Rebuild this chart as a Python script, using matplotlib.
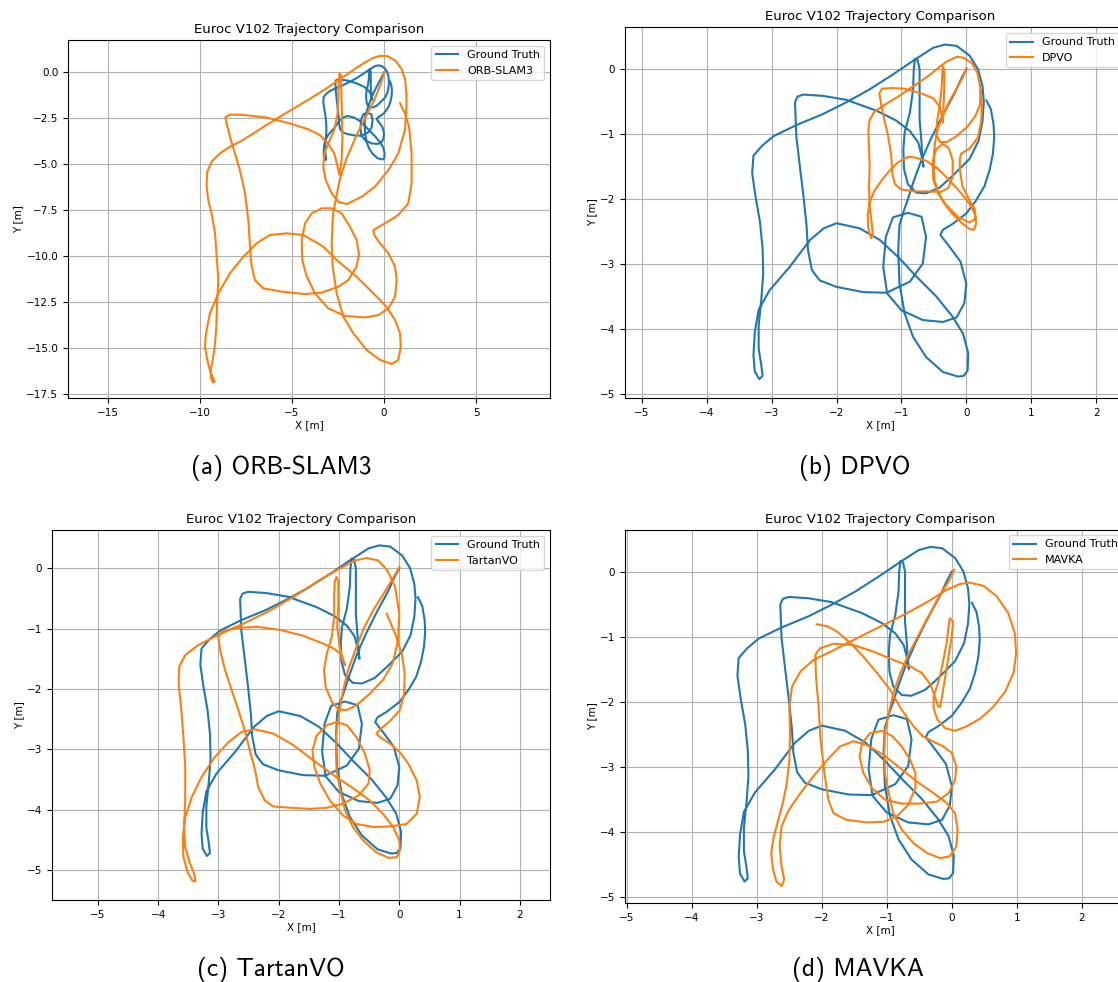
import matplotlib.pyplot as plt

# ground truth (same in every panel)
gt_x = [0.00, -0.08, -0.18, -0.37, -0.55, -0.70, -0.82, -0.90, -0.97, -1.03, -1.05, -1.03, -0.95, -0.82,
        -0.62, -0.36, -0.13, -0.04, 0.02, 0.03, -0.05, -0.21, -0.46, -0.77, -1.03, -1.33, -1.64, -2.00,
        -2.20, -2.41, -2.72, -3.03, -3.20, -3.26, -3.28, -3.26, -3.19, -3.14, -3.16, -3.20, -3.20, -3.16,
        -3.13, -3.14, -3.18, -3.25, -3.30, -3.28, -3.15, -2.97, -2.62, -2.21, -1.85, -1.49, -1.13, -0.79,
        -0.51, -0.33, -0.15, 0.05, 0.18, 0.25, 0.27, 0.25, 0.19, 0.05, -0.21, -0.41, -0.62, -0.77, -0.90,
        -0.96, -0.97, -0.95, -0.87, -0.82, -0.81, -0.79, -0.75, -0.72, -0.72, -0.72, -0.69, -0.68, -0.66,
        -0.69, -0.74, -0.87, -1.08, -1.38, -1.85, -2.21, -2.51, -2.60, -2.64, -2.62, -2.56, -2.51, -2.46,
        -2.44, -2.38, -2.26, -2.00, -1.59, -1.23, -0.87, -0.67, -0.62, -0.69, -0.90, -1.13, -1.24, -1.28,
        -1.22, -1.00, -0.67, -0.36, -0.15, -0.03, 0.00, -0.09, -0.26, -0.40, -0.36, -0.21, 0.00, 0.15, 0.28,
        0.36, 0.41, 0.43, 0.42, 0.38, 0.31]
gt_y = [0.00, -0.15, -0.37, -0.72, -1.08, -1.42, -1.75, -2.00, -2.20, -2.40, -2.78, -3.30, -3.76, -4.12,
        -4.43, -4.66, -4.73, -4.72, -4.64, -4.37, -4.07, -3.81, -3.50, -3.19, -2.91, -2.63, -2.45, -2.37,
        -2.45, -2.63, -3.04, -3.40, -3.70, -4.05, -4.40, -4.65, -4.77, -4.72, -4.55, -4.30, -3.95, -3.55,
        -3.15, -2.75, -2.35, -1.95, -1.60, -1.33, -1.18, -1.03, -0.86, -0.69, -0.51, -0.31, -0.08, 0.15,
        0.33, 0.38, 0.36, 0.21, 0.00, -0.26, -0.50, -0.80, -1.10, -1.38, -1.64, -1.82, -1.91, -1.90, -1.77,
        -1.54, -1.23, -0.97, -0.67, -0.31, 0.00, 0.16, 0.14, 0.00, -0.41, -0.77, -1.13, -1.33, -1.50, -1.33,
        -1.13, -0.95, -0.79, -0.64, -0.47, -0.41, -0.39, -0.42, -0.51, -1.03, -1.54, -1.95, -2.43, -2.78,
        -3.09, -3.25, -3.35, -3.43, -3.44, -3.27, -2.99, -2.58, -2.27, -2.21, -2.28, -2.58, -3.04, -3.45,
        -3.71, -3.86, -3.89, -3.82, -3.60, -3.30, -2.96, -2.73, -2.55, -2.47, -2.38, -2.22, -2.02, -1.80,
        -1.55, -1.30, -1.05, -0.85, -0.62, -0.48]

# (a) ORB-SLAM3
orb_x = [0.00, -0.13, -0.49, -0.94, -1.49, -2.03, -2.39, -2.57, -2.75, -2.79, -2.84, -2.79, -2.57, -2.21,
         -1.67, -0.94, -0.22, 0.42, 0.78, 0.91, 0.87, 0.60, 0.14, -0.58, -1.49, -2.57, -3.30, -4.38, -5.29,
         -6.20, -6.92, -7.64, -8.37, -9.00, -9.46, -9.67, -9.73, -9.60, -9.46, -9.30, -9.20, -9.30, -9.40,
         -9.42, -9.30, -9.20, -9.12, -9.06, -9.00, -9.09, -9.18, -9.37, -9.55, -9.64, -9.60, -9.37, -8.91,
         -8.37, -7.83, -7.10, -6.38, -5.65, -4.75, -3.84, -3.12, -2.48, -1.12, -0.60, -0.22, 0.20, 0.60,
         0.95, 1.15, 1.22, 1.22, 1.14, 0.78, 0.24, -0.49, -1.21, -2.03, -2.48, -2.84, -3.17, -3.30, -3.24,
         -3.03, -2.70, -2.52, -2.48, -2.45, -2.42, -2.34, -2.30, -2.26, -2.30, -2.42, -2.55, -2.70, -3.10,
         -3.50, -4.10, -5.20, -6.40, -7.80, -8.40, -8.62, -8.55, -8.37, -8.10, -7.83, -7.55, -7.37, -7.28,
         -7.19, -7.01, -6.56, -5.56, -4.29, -3.39, -2.48, -1.94, -1.49, -1.36, -1.49, -1.85, -2.30, -2.84,
         -3.39, -3.93, -4.29, -4.47, -4.44, -4.20, -3.75, -3.03, -2.12, -1.03, -0.31, 0.24, 0.60, 0.69,
         0.60, 0.24, -0.22, -0.53, -0.58, 0.05, 0.78, 1.32, 1.50, 1.50, 1.36, 1.14, 0.87]
orb_y = [0.00, -0.51, -1.41, -2.32, -3.41, -4.67, -5.76, -6.67, -7.57, -8.03, -9.29, -10.56, -12.01,
         -13.28, -14.18, -15.09, -15.63, -15.85, -15.63, -14.91, -14.18, -13.46, -12.74, -12.01, -11.11,
         -10.20, -9.47, -8.84, -8.75, -8.84, -9.29, -10.02, -10.92, -12.01, -13.10, -14.18, -14.91, -15.63,
         -16.18, -16.60, -16.80, -16.85, -16.60, -16.20, -15.60, -14.90, -14.00, -12.37, -11.29, -10.02,
         -8.75, -7.66, -6.94, -6.12, -5.40, -4.86, -4.40, -4.04, -3.77, -3.32, -2.86, -2.41, -1.87, -1.32,
         -0.87, -0.42, 0.49, 0.78, 0.90, 0.88, 0.65, 0.20, -0.40, -1.20, -1.87, -3.13, -4.40, -5.31, -6.21,
         -6.76, -7.16, -7.03, -6.58, -5.85, -5.13, -4.40, -3.86, -3.13, -2.23, -1.14, -0.42, -0.05, -0.14,
         -1.68, -3.50, -4.76, -5.58, -5.00, -4.40, -3.80, -3.40, -3.10, -2.75, -2.45, -2.30, -2.30, -2.45,
         -2.77, -3.50, -4.40, -5.31, -6.58, -8.03, -9.47, -10.56, -11.29, -11.74, -11.92, -12.05, -11.97,
         -11.65, -11.29, -10.56, -9.84, -9.11, -8.39, -7.66, -7.39, -7.39, -7.66, -8.21, -9.11, -10.20,
         -11.10, -12.01, -12.83, -13.24, -13.32, -13.19, -12.83, -12.19, -11.29, -10.56, -9.84, -9.29,
         -8.84, -8.57, -8.21, -7.75, -7.12, -6.03, -4.40, -2.95, -2.23, -1.68]

# (b) DPVO
dpvo_x = [0.00, -0.05, -0.18, -0.28, -0.36, -0.44, -0.48, -0.50, -0.50, -0.49, -0.44, -0.35, -0.22, -0.08,
          0.05, 0.12, 0.15, 0.14, 0.08, -0.02, -0.13, -0.28, -0.45, -0.62, -0.78, -0.90, -1.05, -1.18,
          -1.30, -1.42, -1.49, -1.52, -1.51, -1.47, -1.44, -1.46, -1.49, -1.50, -1.49, -1.50, -1.51, -1.49,
          -1.42, -1.28, -1.03, -0.80, -0.58, -0.42, -0.30, -0.15, -0.05, 0.08, 0.17, 0.22, 0.21, 0.14, 0.02,
          -0.15, -0.30, -0.40, -0.46, -0.45, -0.41, -0.38, -0.37, -0.36, -0.34, -0.34, -0.35, -0.36, -0.40,
          -0.50, -0.70, -0.95, -1.15, -1.30, -1.34, -1.31, -1.26, -1.21, -1.16, -1.14, -1.10, -1.00, -0.80,
          -0.60, -0.40, -0.28, -0.21, -0.21, -0.27, -0.37, -0.47, -0.52, -0.51, -0.43, -0.30, -0.12, 0.05,
          0.14, 0.13, 0.04, -0.06, -0.10, -0.10, -0.08, 0.05, 0.18, 0.23, 0.24, 0.22]
dpvo_y = [0.02, -0.12, -0.35, -0.53, -0.71, -0.92, -1.12, -1.30, -1.50, -1.70, -1.88, -2.05, -2.22, -2.36,
          -2.46, -2.47, -2.38, -2.25, -2.12, -1.98, -1.85, -1.69, -1.52, -1.41, -1.36, -1.35, -1.43, -1.56,
          -1.70, -1.88, -2.05, -2.25, -2.45, -2.60, -2.55, -2.35, -2.10, -1.80, -1.50, -1.20, -0.95, -0.78,
          -0.66, -0.56, -0.41, -0.25, -0.10, 0.03, 0.12, 0.19, 0.18, 0.10, -0.05, -0.30, -0.55, -0.72, -0.88,
          -1.03, -1.12, -1.12, -1.02, -0.80, -0.55, -0.30, -0.05, 0.04, -0.02, -0.30, -0.55, -0.82, -0.60,
          -0.45, -0.37, -0.30, -0.29, -0.30, -0.37, -0.55, -0.80, -1.00, -1.30, -1.60, -1.77, -1.85, -1.88,
          -1.88, -1.89, -1.83, -1.66, -1.41, -1.21, -1.15, -1.24, -1.45, -1.70, -1.92, -2.10, -2.28, -2.36,
          -2.30, -2.15, -2.00, -1.80, -1.55, -1.38, -1.30, -1.22, -1.05, -0.80, -0.55, -0.32]

# (c) TartanVO
tartan_x = [0.00, -0.09, -0.24, -0.43, -0.60, -0.73, -0.85, -0.93, -0.99, -1.04, -1.05, -1.04, -0.98,
            -0.90, -0.77, -0.60, -0.38, -0.18, -0.04, 0.01, 0.00, -0.10, -0.27, -0.49, -0.76, -1.09, -1.43,
            -1.76, -2.09, -2.39, -2.61, -2.83, -3.06, -3.28, -3.44, -3.55, -3.59, -3.58, -3.51, -3.43, -3.38,
            -3.40, -3.48, -3.55, -3.57, -3.55, -3.55, -3.58, -3.62, -3.66, -3.65, -3.55, -3.33, -2.97, -2.59,
            -2.14, -1.70, -1.31, -0.98, -0.73, -0.54, -0.35, -0.20, -0.07, 0.00, -0.02, -0.11, -0.27, -0.49,
            -0.71, -0.87, -1.01, -1.12, -1.22, -1.25, -1.20, -1.12, -1.08, -1.08, -1.07, -1.04, -1.01, -1.01,
            -1.03, -0.99, -0.93, -0.90, -0.98, -1.09, -1.26, -1.59, -1.98, -2.36, -2.70, -2.94, -3.00, -2.97,
            -2.89, -2.78, -2.67, -2.56, -2.48, -2.39, -2.34, -2.23, -2.09, -1.81, -1.48, -1.20, -0.93, -0.68,
            -0.51, -0.49, -0.57, -0.71, -0.87, -1.04, -1.20, -1.37, -1.44, -1.41, -1.31, -1.15, -0.93, -0.71,
            -0.43, -0.15, 0.12, 0.29, 0.34, 0.29, 0.15, 0.01, -0.15, -0.32, -0.38, -0.32, -0.15, 0.01, 0.08,
            0.09, 0.04, -0.07, -0.21]
tartan_y = [0.02, -0.14, -0.39, -0.69, -1.02, -1.36, -1.69, -2.02, -2.35, -2.69, -3.02, -3.35, -3.68,
            -4.01, -4.29, -4.51, -4.71, -4.80, -4.79, -4.68, -4.51, -4.29, -4.07, -3.85, -3.65, -3.43, -3.18,
            -2.93, -2.74, -2.67, -2.71, -2.88, -3.13, -3.46, -3.79, -4.13, -4.46, -4.79, -5.04, -5.18, -5.19,
            -5.07, -4.87, -4.62, -4.29, -3.85, -3.29, -2.80, -2.30, -1.91, -1.63, -1.44, -1.27, -1.09, -0.92,
            -0.70, -0.44, -0.19, 0.00, 0.13, 0.17, 0.13, -0.03, -0.30, -0.75, -1.19, -1.58, -1.85, -2.08,
            -2.27, -2.35, -2.34, -2.21, -1.97, -1.69, -1.41, -1.14, -0.80, -0.47, -0.22, -0.14, -0.22, -0.58,
            -0.97, -1.30, -1.52, -1.61, -1.41, -1.33, -1.25, -1.12, -1.02, -0.97, -0.99, -1.04, -1.14, -1.36,
            -1.69, -2.02, -2.35, -2.69, -3.02, -3.35, -3.63, -3.85, -3.95, -3.97, -3.99, -3.97, -3.90, -3.77,
            -3.57, -3.35, -3.07, -2.80, -2.60, -2.55, -2.60, -2.77, -3.02, -3.29, -3.57, -3.85, -4.10, -4.24,
            -4.29, -4.28, -4.24, -4.07, -3.79, -3.52, -3.24, -3.05, -2.91, -2.80, -2.74, -2.67, -2.53, -2.35,
            -2.08, -1.74, -1.41, -1.08, -0.75]

# (d) MAVKA
mavka_x = [0.04, -0.05, -0.21, -0.36, -0.51, -0.67, -0.79, -0.90, -0.97, -1.03, -1.04, -1.03, -0.97, -0.90,
           -0.77, -0.59, -0.38, -0.18, -0.03, 0.07, 0.09, 0.05, -0.08, -0.28, -0.54, -0.79, -1.05, -1.31,
           -1.51, -1.72, -1.92, -2.13, -2.33, -2.51, -2.62, -2.65, -2.62, -2.58, -2.62, -2.70, -2.75, -2.78,
           -2.74, -2.67, -2.60, -2.54, -2.50, -2.49, -2.50, -2.46, -2.33, -2.13, -1.82, -1.41, -1.05, -0.69,
           -0.33, -0.08, 0.13, 0.28, 0.49, 0.69, 0.87, 0.97, 0.99, 0.95, 0.82, 0.64, 0.44, 0.23, 0.05, -0.10,
           -0.22, -0.28, -0.28, -0.22, -0.17, -0.13, -0.08, -0.05, -0.03, 0.02, 0.00, -0.05, -0.10, -0.15,
           -0.18, -0.21, -0.26, -0.33, -0.46, -0.64, -0.90, -1.21, -1.51, -1.82, -2.03, -2.10, -2.09, -2.05,
           -2.02, -1.96, -1.90, -1.82, -1.62, -1.31, -1.05, -0.85, -0.67, -0.56, -0.56, -0.64, -0.77, -0.92,
           -1.08, -1.26, -1.38, -1.42, -1.36, -1.23, -1.03, -0.77, -0.49, -0.23, -0.05, 0.05, 0.07, 0.00,
           -0.13, -0.28, -0.44, -0.59, -0.77, -0.95, -1.15, -1.36, -1.56, -1.77, -1.92, -2.08]
mavka_y = [0.03, -0.15, -0.41, -0.69, -0.97, -1.28, -1.56, -1.87, -2.18, -2.49, -2.79, -3.10, -3.41, -3.72,
           -3.97, -4.18, -4.33, -4.41, -4.38, -4.23, -3.97, -3.72, -3.56, -3.41, -3.23, -3.03, -2.82, -2.67,
           -2.61, -2.69, -2.90, -3.15, -3.41, -3.67, -3.92, -4.23, -4.54, -4.74, -4.84, -4.77, -4.59, -4.33,
           -4.08, -3.82, -3.56, -3.26, -2.90, -2.49, -2.08, -1.77, -1.54, -1.36, -1.21, -1.00, -0.82, -0.64,
           -0.44, -0.28, -0.19, -0.17, -0.22, -0.38, -0.64, -0.95, -1.26, -1.56, -1.85, -2.08, -2.26, -2.38,
           -2.45, -2.41, -2.28, -2.10, -1.92, -1.74, -1.56, -1.36, -1.10, -0.85, -0.72, -0.77, -1.00, -1.31,
           -1.62, -1.92, -2.08, -2.08, -1.92, -1.74, -1.56, -1.46, -1.36, -1.23, -1.13, -1.11, -1.18, -1.28,
           -1.62, -2.08, -2.59, -3.10, -3.51, -3.72, -3.82, -3.86, -3.85, -3.77, -3.59, -3.33, -3.10, -2.90,
           -2.69, -2.53, -2.45, -2.49, -2.64, -2.85, -3.10, -3.33, -3.51, -3.57, -3.57, -3.54, -3.41, -3.21,
           -3.00, -2.79, -2.69, -2.62, -2.54, -2.38, -2.13, -1.82, -1.56, -1.31, -1.10, -0.92, -0.84, -0.81]

W, H = 1118, 982
fig = plt.figure(figsize=(W / 100, H / 100), dpi=100)

blue = "#1f77b4"
orange = "#ff7f0e"


def panel(px_box, xlim, ylim, xticks, yticks, ex, ey, name, caption, cap_xy, leg_xy=None):
    left, top, right, bottom = px_box
    ax = fig.add_axes([left / W, 1 - bottom / H, (right - left) / W, (bottom - top) / H])
    ax.plot(gt_x, gt_y, color=blue, lw=1.5, label="Ground Truth")
    ax.plot(ex, ey, color=orange, lw=1.5, label=name)
    ax.set_xlim(xlim)
    ax.set_ylim(ylim)
    ax.set_xticks(xticks)
    ax.set_yticks(yticks)
    ax.tick_params(labelsize=7.5)
    ax.grid(True)
    ax.set_xlabel("X [m]", fontsize=7.5, labelpad=2)
    ax.set_ylabel("Y [m]", fontsize=7.5, labelpad=2)
    ax.set_title("Euroc V102 Trajectory Comparison", fontsize=9.5, pad=5)
    if leg_xy is None:
        ax.legend(loc="upper right", fontsize=8)
    else:
        ax.legend(loc="upper left", fontsize=8, bbox_to_anchor=(leg_xy[0] / W, 1 - leg_xy[1] / H),
                  bbox_transform=fig.transFigure, borderaxespad=0)
    fig.text(cap_xy[0] / W, 1 - cap_xy[1] / H, caption, fontsize=18.3, family="cmss10",
             ha="center", va="center")
    return ax


ax_a = panel((68, 40, 550, 398), (-17.17, 9.02), (-17.7, 1.76), [-15, -10, -5, 0, 5],
             [0, -2.5, -5, -7.5, -10, -12.5, -15, -17.5], orb_x, orb_y, "ORB-SLAM3",
             "(a) ORB-SLAM3", (281, 468))
ax_a.set_yticklabels(["0.0", "\u22122.5", "\u22125.0", "\u22127.5", "\u221210.0", "\u221212.5",
                      "\u221215.0", "\u221217.5"])

panel((625, 27, 1135, 398), (-5.26, 2.6), (-5.06, 0.65), range(-5, 3), range(-5, 1),
      dpvo_x, dpvo_y, "DPVO", "(b) DPVO", (855, 468), leg_xy=(1006, 33))
panel((52, 530, 550, 900), (-5.76, 2.5), (-5.5, 0.635), range(-5, 3), range(-5, 1),
      tartan_x, tartan_y, "TartanVO", "(c) TartanVO", (271, 970))
panel((625, 530, 1135, 903), (-5.03, 2.82), (-5.1, 0.64), range(-5, 3), range(-5, 1),
      mavka_x, mavka_y, "MAVKA", "(d) MAVKA", (858, 970), leg_xy=(1009, 535))

fig.savefig("out.png", dpi=100)
